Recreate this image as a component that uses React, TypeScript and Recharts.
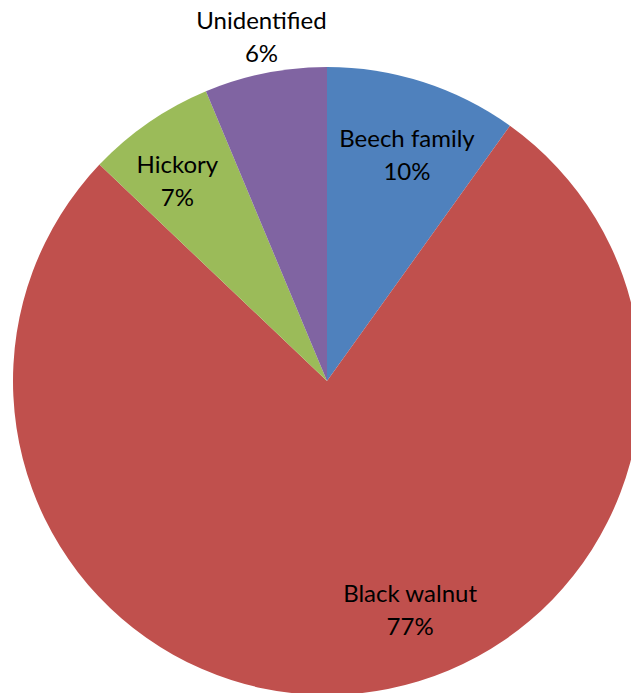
import React from 'react';
import { PieChart, Pie, Cell } from 'recharts';

const names = ['Beech family', 'Black walnut', 'Hickory', 'Unidentified'];
const shares = [9.9, 77.2, 6.6, 6.3];
const shareLabels = ['10%', '77%', '7%', '6%'];
const colors = ['#4F81BD', '#C0504D', '#9BBB59', '#8064A2'];

const data = names.map((name, i) => ({ name, value: shares[i], pct: shareLabels[i] }));

// label placement: radius factor and angle shift (degrees) per slice
const labelPos: Record<string, { r: number; shift: number }> = {
  'Beech family': { r: 0.77, shift: -1.5 },
  'Black walnut': { r: 0.77, shift: 14.7 },
  Hickory: { r: 0.8, shift: 2 },
  Unidentified: { r: 1.12, shift: -0.6 },
};

const RAD = Math.PI / 180;

function renderLabel(props: any) {
  const { cx, cy, midAngle, outerRadius, index } = props;
  const d = data[index];
  const pos = labelPos[d.name];
  const a = (midAngle + pos.shift) * RAD;
  const r = outerRadius * pos.r;
  const x = cx + r * Math.cos(a);
  const y = cy - r * Math.sin(a);
  return (
    <text
      x={x}
      y={y}
      textAnchor="middle"
      fill="#000"
      fontSize={24}
      fontFamily="Lato, 'Open Sans', sans-serif"
    >
      <tspan x={x} dy={-6}>{d.name}</tspan>
      <tspan x={x} dy={33}>{d.pct}</tspan>
    </text>
  );
}

export default function App() {
  return (
    <div style={{ position: 'absolute', left: 0, top: 0, width: 631, height: 693, background: '#fff', overflow: 'hidden' }}>
      <PieChart width={631} height={693} margin={{ top: 0, right: 0, bottom: 0, left: 0 }}>
        <Pie
          data={data}
          dataKey="value"
          nameKey="name"
          cx={327}
          cy={381}
          outerRadius={314}
          startAngle={90}
          endAngle={-270}
          stroke="none"
          label={renderLabel}
          labelLine={false}
          isAnimationActive={false}
        >
          {data.map((d, i) => (
            <Cell key={d.name} fill={colors[i]} />
          ))}
        </Pie>
      </PieChart>
    </div>
  );
}
